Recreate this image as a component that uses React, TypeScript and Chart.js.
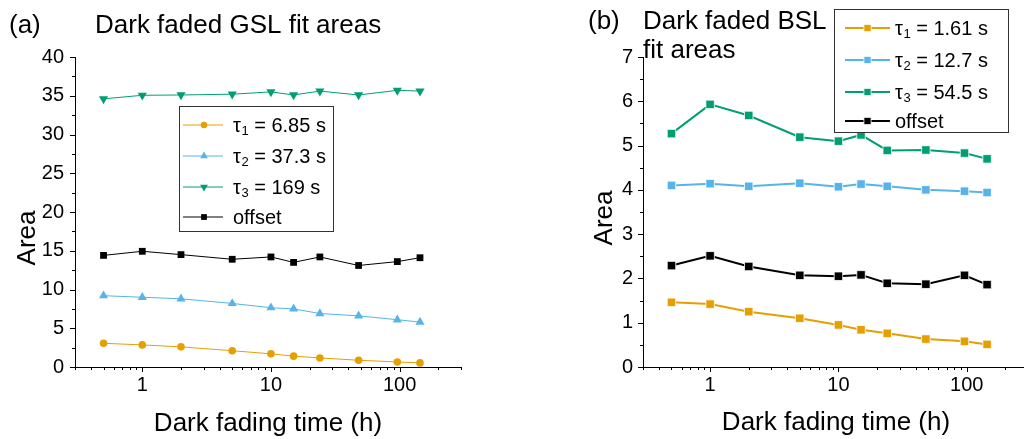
import React, { useEffect, useRef } from "react";
import { Chart, registerables } from "chart.js";

Chart.register(...registerables);

const FONT = "'Liberation Sans', Arial, Helvetica, sans-serif";

// ---- Data ----
const fadingHours = [0.5, 1, 2, 5, 10, 15, 24, 48, 96, 144];

const gslTau1 = [3.06, 2.85, 2.6, 2.1, 1.7, 1.4, 1.17, 0.87, 0.65, 0.53];
const gslTau2 = [9.2, 9.0, 8.8, 8.2, 7.65, 7.5, 6.9, 6.6, 6.1, 5.8];
const gslTau3 = [34.6, 35.06, 35.1, 35.2, 35.5, 35.1, 35.6, 35.1, 35.7, 35.6];
const gslOffset = [14.4, 14.93, 14.5, 13.9, 14.2, 13.5, 14.2, 13.1, 13.6, 14.1];

const bslTau1 = [1.46, 1.42, 1.25, 1.1, 0.95, 0.84, 0.76, 0.63, 0.58, 0.51];
const bslTau2 = [4.1, 4.14, 4.08, 4.15, 4.07, 4.13, 4.08, 4.0, 3.97, 3.94];
const bslTau3 = [5.27, 5.93, 5.68, 5.19, 5.1, 5.24, 4.89, 4.9, 4.83, 4.7];
const bslOffset = [2.29, 2.51, 2.27, 2.07, 2.05, 2.08, 1.89, 1.87, 2.07, 1.86];

const gslLabels = ["τ1 = 6.85 s", "τ2 = 37.3 s", "τ3 = 169 s", "offset"];
const bslLabels = ["τ1 = 1.61 s", "τ2 = 12.7 s", "τ3 = 54.5 s", "offset"];

const xTickValues = [1, 10, 100];
const seriesColors = ["#E69F00", "#56B4E9", "#009E73", "#000000"];

const xTitle = "Dark fading time (h)";
const yTitle = "Area";

type Marker = { style: string; radius: number; rotation: number; border: string; borderWidth: number };

type PanelSpec = {
  left: number;
  width: number;
  yMax: number;
  yMajor: number;
  yMinor: number;
  yWidth: number;
  padRight: number;
  yPad: number;
  series: number[][];
  labels: string[];
  markers: Marker[];
  lineWidth: number;
  titles: { text: string; x: number; y: number }[];
  yTitlePos: { x: number; y: number };
  xTitlePos: { x: number; y: number };
  legend: { x: number; y: number; w: number; h: number; rows: number[]; l1: number; l2: number; mx: number; tx: number };
};

function drawMarker(ctx: CanvasRenderingContext2D, m: Marker, color: string, x: number, y: number) {
  ctx.save();
  ctx.fillStyle = color;
  ctx.beginPath();
  const r = m.radius;
  if (m.style === "circle") {
    ctx.arc(x, y, r, 0, Math.PI * 2);
  } else if (m.style === "triangle") {
    let rad = (m.rotation * Math.PI) / 180;
    ctx.moveTo(x + Math.sin(rad) * r, y - Math.cos(rad) * r);
    rad += (2 * Math.PI) / 3;
    ctx.lineTo(x + Math.sin(rad) * r, y - Math.cos(rad) * r);
    rad += (2 * Math.PI) / 3;
    ctx.lineTo(x + Math.sin(rad) * r, y - Math.cos(rad) * r);
    ctx.closePath();
  } else {
    const s = Math.SQRT1_2 * r;
    ctx.rect(x - s, y - s, 2 * s, 2 * s);
  }
  ctx.fill();
  if (m.borderWidth > 0) {
    ctx.lineWidth = m.borderWidth;
    ctx.strokeStyle = m.border;
    ctx.stroke();
  }
  ctx.restore();
}

function makeDecor(spec: PanelSpec) {
  return {
    id: "decor",
    afterDraw(chart: any) {
      const ctx: CanvasRenderingContext2D = chart.ctx;
      const xs = chart.scales.x;
      const ys = chart.scales.y;
      const area = chart.chartArea;
      ctx.save();
      ctx.strokeStyle = "#000";
      ctx.lineWidth = 1;
      // x ticks (log)
      const lo = Math.floor(Math.log10(xs.min));
      const hi = Math.ceil(Math.log10(xs.max));
      for (let d = lo; d <= hi; d++) {
        for (let m = 1; m <= 9; m++) {
          const v = m * Math.pow(10, d);
          if (v < xs.min * 0.999 || v > xs.max * 1.001) continue;
          const px = Math.round(xs.getPixelForValue(v)) + 0.5;
          const len = m === 1 ? 5 : 3;
          ctx.beginPath();
          ctx.moveTo(px, area.bottom);
          ctx.lineTo(px, area.bottom + len);
          ctx.stroke();
        }
      }
      // y ticks
      const n = Math.round((ys.max - ys.min) / spec.yMinor);
      for (let i = 0; i <= n; i++) {
        const v = ys.min + i * spec.yMinor;
        const py = Math.round(ys.getPixelForValue(v)) + 0.5;
        const q = v / spec.yMajor;
        const major = Math.abs(q - Math.round(q)) < 1e-6;
        const len = major ? 5 : 3;
        ctx.beginPath();
        ctx.moveTo(area.left - len, py);
        ctx.lineTo(area.left, py);
        ctx.stroke();
      }

      // titles
      ctx.fillStyle = "#000";
      ctx.font = `26px ${FONT}`;
      ctx.textAlign = "left";
      ctx.textBaseline = "alphabetic";
      for (const t of spec.titles) ctx.fillText(t.text, t.x, t.y);

      // axis titles
      ctx.textAlign = "center";
      ctx.fillText(xTitle, spec.xTitlePos.x, spec.xTitlePos.y);
      ctx.save();
      ctx.translate(spec.yTitlePos.x, spec.yTitlePos.y);
      ctx.rotate(-Math.PI / 2);
      ctx.textBaseline = "middle";
      ctx.fillText(yTitle, 0, 0);
      ctx.restore();

      // legend
      const L = spec.legend;
      ctx.fillStyle = "#fff";
      ctx.fillRect(L.x, L.y, L.w, L.h);
      ctx.strokeStyle = "#333";
      ctx.lineWidth = 1;
      ctx.strokeRect(L.x + 0.5, L.y + 0.5, L.w, L.h);
      spec.labels.forEach((label, i) => {
        const y = L.rows[i];
        const col = seriesColors[i];
        ctx.strokeStyle = col;
        ctx.lineWidth = spec.lineWidth;
        ctx.beginPath();
        ctx.moveTo(L.l1, y);
        ctx.lineTo(L.l2, y);
        ctx.stroke();
        const mk = { ...spec.markers[i], radius: spec.markers[i].radius * 0.85 };
        drawMarker(ctx, mk, col, L.mx, y);
        ctx.fillStyle = "#000";
        ctx.textAlign = "left";
        ctx.textBaseline = "alphabetic";
        const base = y + 6.5;
        let x = L.tx;
        if (label[0] === "τ") {
          ctx.font = `20px ${FONT}`;
          ctx.fillText("τ", x, base);
          x += ctx.measureText("τ").width + 0.5;
          ctx.font = `13px ${FONT}`;
          ctx.fillText(label[1], x, base + 3);
          x += ctx.measureText(label[1]).width;
          ctx.font = `20px ${FONT}`;
          ctx.fillText(label.slice(2), x, base);
        } else {
          ctx.font = `20px ${FONT}`;
          ctx.fillText(label, x, base);
        }
      });
      ctx.restore();
    },
  };
}

function Panel({ spec }: { spec: PanelSpec }) {
  const ref = useRef<HTMLCanvasElement>(null);
  useEffect(() => {
    const datasets = spec.series.map((vals, i) => ({
      label: spec.labels[i],
      data: fadingHours.map((x, j) => ({ x, y: vals[j] })),
      borderColor: seriesColors[i],
      backgroundColor: seriesColors[i],
      borderWidth: spec.lineWidth,
      pointStyle: spec.markers[i].style,
      pointRadius: spec.markers[i].radius,
      pointRotation: spec.markers[i].rotation,
      pointBackgroundColor: seriesColors[i],
      pointBorderColor: spec.markers[i].border,
      pointBorderWidth: spec.markers[i].borderWidth,
      tension: 0,
    }));
    const chart = new Chart(ref.current as HTMLCanvasElement, {
      type: "line",
      data: { datasets } as any,
      options: {
        animation: false,
        responsive: false,
        events: [],
        layout: { padding: { top: 57, right: spec.padRight, bottom: 0, left: 0 } },
        plugins: { legend: { display: false }, tooltip: { enabled: false }, title: { display: false } },
        scales: {
          x: {
            type: "logarithmic",
            min: 0.3,
            max: 300,
            afterBuildTicks: (s: any) => {
              s.ticks = xTickValues.map((v) => ({ value: v, major: true }));
            },
            afterFit: (s: any) => {
              s.height = 72;
            },
            ticks: {
              autoSkip: false,
              maxRotation: 0,
              padding: 6,
              color: "#000",
              font: { family: FONT, size: 20 },
              callback: (v: any) => String(v),
            },
            grid: { display: false, drawTicks: false },
            border: { display: true, color: "#000", width: 1 },
          },
          y: {
            type: "linear",
            min: 0,
            max: spec.yMax,
            afterFit: (s: any) => {
              s.width = spec.yWidth;
            },
            ticks: {
              stepSize: spec.yMajor,
              padding: spec.yPad,
              color: "#000",
              font: { family: FONT, size: 20 },
            },
            grid: { display: false, drawTicks: false },
            border: { display: true, color: "#000", width: 1 },
          },
        },
      } as any,
      plugins: [makeDecor(spec)],
    });
    return () => chart.destroy();
  }, []);
  return (
    <div style={{ position: "absolute", left: spec.left, top: 0, width: spec.width, height: 439 }}>
      <canvas ref={ref} width={spec.width} height={439} style={{ display: "block" }} />
    </div>
  );
}

const leftSpec: PanelSpec = {
  left: 0,
  width: 560,
  yMax: 40,
  yMajor: 5,
  yMinor: 2.5,
  yWidth: 75,
  padRight: 99,
  yPad: 11,
  series: [gslTau1, gslTau2, gslTau3, gslOffset],
  labels: gslLabels,
  markers: [
    { style: "circle", radius: 3.8, rotation: 0, border: "#E69F00", borderWidth: 0 },
    { style: "triangle", radius: 5.3, rotation: 0, border: "#56B4E9", borderWidth: 0 },
    { style: "triangle", radius: 5.3, rotation: 180, border: "#009E73", borderWidth: 0 },
    { style: "rect", radius: 4.8, rotation: 0, border: "#000", borderWidth: 0 },
  ],
  lineWidth: 1,
  titles: [
    { text: "(a)", x: 9, y: 33 },
    { text: "Dark faded GSL fit areas", x: 95, y: 33 },
  ],
  yTitlePos: { x: 28, y: 238 },
  xTitlePos: { x: 268, y: 431 },
  legend: { x: 179, y: 106, w: 154, h: 125, rows: [125, 156, 187, 217], l1: 183, l2: 223, mx: 204, tx: 233 },
};

const rightSpec: PanelSpec = {
  left: 560,
  width: 480,
  yMax: 7,
  yMajor: 1,
  yMinor: 0.5,
  yWidth: 83,
  padRight: 12,
  yPad: 10,
  series: [bslTau1, bslTau2, bslTau3, bslOffset],
  labels: bslLabels,
  markers: [
    { style: "rect", radius: 6, rotation: 0, border: "rgba(255,255,255,0.8)", borderWidth: 1 },
    { style: "rect", radius: 6, rotation: 0, border: "rgba(255,255,255,0.8)", borderWidth: 1 },
    { style: "rect", radius: 6, rotation: 0, border: "rgba(255,255,255,0.8)", borderWidth: 1 },
    { style: "rect", radius: 6, rotation: 0, border: "rgba(255,255,255,0.8)", borderWidth: 1 },
  ],
  lineWidth: 2,
  titles: [
    { text: "(b)", x: 28, y: 29 },
    { text: "Dark faded BSL", x: 83, y: 29 },
    { text: "fit areas", x: 83, y: 58 },
  ],
  yTitlePos: { x: 45, y: 218 },
  xTitlePos: { x: 276, y: 430 },
  legend: { x: 274, y: 9, w: 174, h: 123, rows: [28, 60, 92, 121], l1: 285, l2: 330, mx: 307.5, tx: 335 },
};

export default function App() {
  return (
    <div
      style={{
        position: "fixed",
        left: 0,
        top: 0,
        width: 1024,
        height: 439,
        overflow: "hidden",
        background: "#fff",
      }}
    >
      <Panel spec={leftSpec} />
      <Panel spec={rightSpec} />
    </div>
  );
}
